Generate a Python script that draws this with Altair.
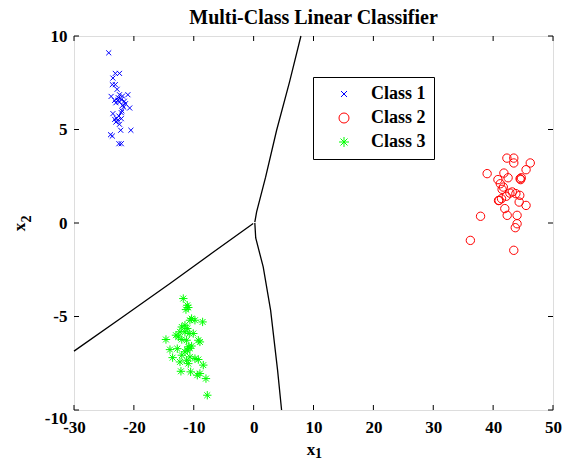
import altair as alt
import pandas as pd

# ---- data ----
c1x = [-24.2, -23.1, -22.4, -23.5, -23.6, -23.1, -22.8, -23.8, -22.4, -21.9, -21.0, -23.2, -22.7, -22.1,
       -21.6, -23.0, -22.4, -21.9, -21.4, -20.7, -23.5, -22.1, -22.5, -23.2, -22.7, -22.1, -23.0, -22.4,
       -22.2, -20.5, -23.9, -23.6, -22.5, -22.1, -22.6, -22.0, -22.9, -21.7]
c1y = [9.1, 8.0, 8.0, 7.75, 7.4, 7.4, 7.15, 6.77, 6.86, 6.79, 6.86, 6.56, 6.56, 6.61,
       6.51, 6.43, 6.47, 6.29, 6.38, 6.15, 5.85, 5.9, 5.72, 5.54, 5.49, 5.58, 5.4, 5.28,
       4.96, 4.96, 4.72, 4.65, 4.24, 4.24, 6.7, 6.0, 5.6, 6.2]

c2x = [42.3, 43.45, 43.45, 46.2, 45.5, 39.0, 41.8, 40.8, 42.5, 44.5, 44.7, 44.6, 41.2, 41.7, 43.2,
       43.8, 44.45, 42.2, 41.0, 41.4, 44.35, 45.5, 41.95, 44.0, 42.35, 37.9, 44.0, 43.7, 36.2, 43.45,
       41.5, 42.8, 40.9]
c2y = [3.47, 3.47, 3.21, 3.21, 2.85, 2.64, 2.67, 2.32, 2.42, 2.37, 2.42, 2.32, 2.1, 1.92, 1.66,
       1.57, 1.48, 1.43, 1.21, 1.3, 1.12, 0.94, 0.77, 0.41, 0.41, 0.36, -0.04, -0.25, -0.93, -1.46,
       1.8, 1.6, 1.2]

c3x = [-11.75, -11.08, -10.91, -11.3, -10.36, -10.64, -9.8, -8.52, -12.0, -11.47, -11.08, -12.3,
       -11.47, -10.75, -10.08, -12.97, -12.58, -14.64, -12.0, -11.19, -9.24, -8.97, -10.91, -10.64,
       -10.36, -13.97, -12.75, -11.47, -11.08, -12.0, -13.53, -10.64, -9.8, -9.24, -11.19, -12.3,
       -8.41, -10.91, -12.14, -10.52, -8.97, -9.41, -7.96, -7.74]
c3y = [-4.04, -4.4, -4.52, -4.63, -5.11, -5.2, -5.2, -5.29, -5.56, -5.47, -5.64, -5.82,
       -5.82, -5.91, -5.91, -6.0, -6.09, -6.23, -6.23, -6.27, -6.27, -6.36, -6.62, -6.7,
       -6.58, -6.77, -6.72, -6.89, -6.8, -7.07, -7.2, -7.16, -7.25, -7.3, -7.34, -7.43,
       -7.6, -7.52, -7.93, -7.96, -8.05, -8.14, -8.32, -9.21]

# decision boundaries (traced)
b1x = [-30.0, -22.0, -13.97, -7.0, -0.07]
b1y = [-6.85, -5.05, -3.24, -1.62, -0.03]
b2x = [0.2, 0.5, 2.0, 3.84, 6.0, 7.9]
b2y = [0.05, 0.6, 2.45, 4.96, 7.55, 10.0]
b3x = [0.2, 0.35, 1.6, 2.84, 4.0, 4.67]
b3y = [0.0, -0.8, -2.35, -4.67, -7.87, -10.0]

classes = ["Class 1", "Class 2", "Class 3"]
colors = ["#0000FF", "#FF0000", "#00FF00"]
x_ticks = [-30, -20, -10, 0, 10, 20, 30, 40, 50]
y_ticks = [-10, -5, 0, 5, 10]

X_SHAPE = "M-0.6,-0.6L0.6,0.6M-0.6,0.6L0.6,-0.6"
STAR_SHAPE = "M-1,0L1,0M0,-1L0,1M-0.7,-0.7L0.7,0.7M-0.7,0.7L0.7,-0.7"
shapes = [X_SHAPE, "circle", STAR_SHAPE]

pts = pd.DataFrame(
    [{"x": a, "y": b, "cls": classes[0]} for a, b in zip(c1x, c1y)]
    + [{"x": a, "y": b, "cls": classes[1]} for a, b in zip(c2x, c2y)]
    + [{"x": a, "y": b, "cls": classes[2]} for a, b in zip(c3x, c3y)]
)
bnd = pd.DataFrame(
    [{"x": a, "y": b, "line": "b1", "i": i} for i, (a, b) in enumerate(zip(b1x, b1y))]
    + [{"x": a, "y": b, "line": "b2", "i": i} for i, (a, b) in enumerate(zip(b2x, b2y))]
    + [{"x": a, "y": b, "line": "b3", "i": i} for i, (a, b) in enumerate(zip(b3x, b3y))]
)
xt = pd.DataFrame({"v": x_ticks})
yt = pd.DataFrame({"v": y_ticks})

W, H = 479, 374
FONT = "Liberation Serif"

xscale = alt.Scale(domain=[-30, 50], nice=False, zero=False)
yscale = alt.Scale(domain=[-10, 10], nice=False, zero=False)

xaxis = alt.Axis(values=x_ticks, title=None, grid=False, domain=False, ticks=False,
                 labelFont=FONT, labelFontSize=17, labelFontWeight="bold", labelColor="black",
                 labelPadding=9, labelFlush=False, labelExpr="'' + datum.value")
yaxis = alt.Axis(values=y_ticks, title=None, grid=False, domain=False, ticks=False,
                 labelFont=FONT, labelFontSize=17, labelFontWeight="bold", labelColor="black",
                 labelPadding=7, labelFlush=False, labelExpr="'' + datum.value",
                 labelBaseline={"condition": {"test": "datum.value == -10", "value": "top"},
                                "value": "middle"})

lines = alt.Chart(bnd).mark_line(color="black", strokeWidth=1.3).encode(
    x=alt.X("x:Q", scale=xscale, axis=xaxis),
    y=alt.Y("y:Q", scale=yscale, axis=yaxis),
    detail="line:N",
    order="i:Q",
)

points = alt.Chart(pts).mark_point(filled=False, size=70, strokeWidth=1, opacity=1).encode(
    x=alt.X("x:Q", scale=xscale),
    y=alt.Y("y:Q", scale=yscale),
    color=alt.Color("cls:N", scale=alt.Scale(domain=classes, range=colors),
                    legend=alt.Legend(title=None, orient="none", legendX=239, legendY=41,
                                      strokeColor="black", fillColor="white", padding=8,
                                      symbolSize=100, symbolStrokeWidth=1, symbolOffset=14,
                                      labelOffset=18, rowPadding=6,
                                      labelFont=FONT, labelFontSize=18, labelFontWeight="bold",
                                      labelColor="black")),
    shape=alt.Shape("cls:N", scale=alt.Scale(domain=classes, range=shapes)),
)

tick_len = 5
xt_bot = alt.Chart(xt).mark_rule(color="black", strokeWidth=1).encode(
    x=alt.X("v:Q", scale=xscale), y=alt.value(H), y2=alt.value(H - tick_len))
xt_top = alt.Chart(xt).mark_rule(color="black", strokeWidth=1).encode(
    x=alt.X("v:Q", scale=xscale), y=alt.value(0), y2=alt.value(tick_len))
yt_left = alt.Chart(yt).mark_rule(color="black", strokeWidth=1).encode(
    y=alt.Y("v:Q", scale=yscale), x=alt.value(0), x2=alt.value(tick_len))
yt_right = alt.Chart(yt).mark_rule(color="black", strokeWidth=1).encode(
    y=alt.Y("v:Q", scale=yscale), x=alt.value(W), x2=alt.value(W - tick_len))

lab = pd.DataFrame({"t": ["x", "1", "x", "2"],
                    "px": [237, 244.5, -54, -47], "py": [414, 418, 191, 183],
                    "ang": [0, 0, 270, 270], "fs": [17, 14, 17, 14]})
xlab = alt.Chart(lab.iloc[:2]).mark_text(font=FONT, fontWeight="bold", color="black",
                                          align="center", baseline="middle").encode(
    x=alt.X("px:Q", scale=None), y=alt.Y("py:Q", scale=None), text="t:N",
    size=alt.Size("fs:Q", scale=None))
ylab = alt.Chart(lab.iloc[2:]).mark_text(font=FONT, fontWeight="bold", color="black",
                                          align="center", baseline="middle", angle=270).encode(
    x=alt.X("px:Q", scale=None), y=alt.Y("py:Q", scale=None), text="t:N",
    size=alt.Size("fs:Q", scale=None))

chart = alt.layer(lines, points, xt_bot, xt_top, yt_left, yt_right, xlab, ylab).resolve_scale(
    x="shared", y="shared"
).properties(
    width=W, height=H,
    title=alt.TitleParams("Multi-Class Linear Classifier", font=FONT, fontSize=20,
                          fontWeight="bold", color="black", anchor="middle", offset=-1),
    autosize=alt.AutoSizeParams(type="none"),
    padding={"left": 74, "top": 36, "right": 22, "bottom": 53},
).configure_view(stroke="black", strokeWidth=1.5).configure(background="white")

chart.save("out.html", embed_options={"renderer": "svg", "actions": False})
